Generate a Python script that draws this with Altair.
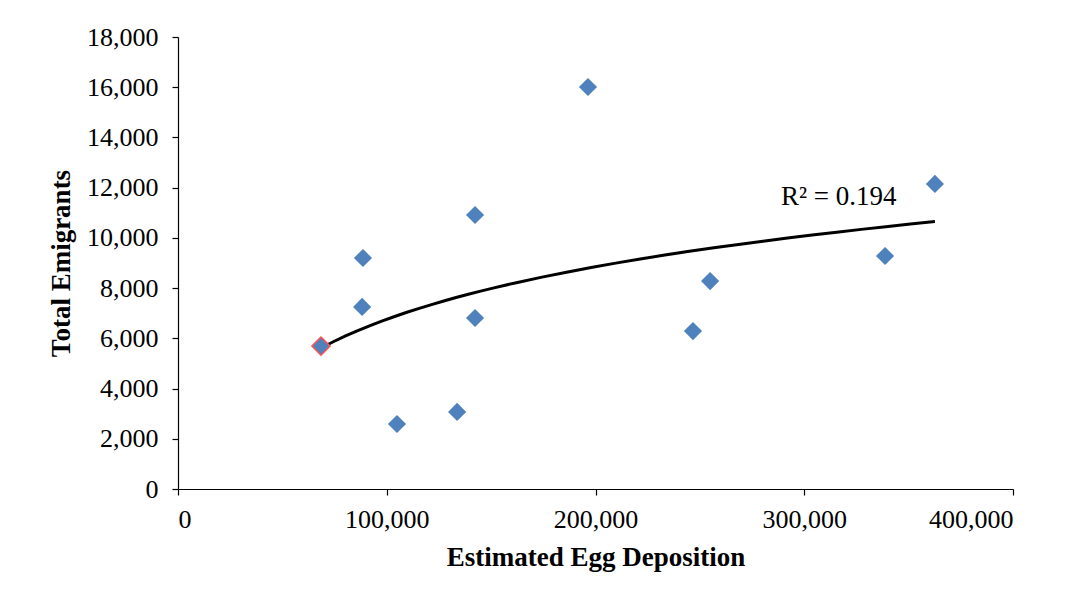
import altair as alt
import pandas as pd

egg = [68500, 88200, 88600, 104900, 133700, 142300, 142300, 196400, 246700, 254900, 338700, 362600]
emig = [5690, 7250, 9200, 2590, 3070, 10910, 6810, 16010, 6290, 8280, 9280, 12150]
highlight = [True, False, False, False, False, False, False, False, False, False, False, False]

r2_label = ["R\u00b2 = 0.194"]
r2_x = [316500]
r2_y = [11630]

df = pd.DataFrame({"egg": egg, "emig": emig, "hl": highlight})
lab = pd.DataFrame({"t": r2_label, "x": r2_x, "y": r2_y})

FONT = "Liberation Serif"

xs = alt.Scale(domain=[0, 400000], nice=False)
ys = alt.Scale(domain=[0, 18000], nice=False)

xax = alt.Axis(values=[0, 100000, 200000, 300000, 400000], format=",d", title="Estimated Egg Deposition",
               grid=False, tickSize=6, labelPadding=11, titlePadding=12)
yax = alt.Axis(values=list(range(0, 18001, 2000)), format=",d", title="Total Emigrants",
               grid=False, tickSize=6, labelPadding=14, titlePadding=11)

base = alt.Chart(df)

pts = base.mark_point(shape="diamond", filled=True, size=330, color="#4F81BD", opacity=1).encode(
    x=alt.X("egg:Q", scale=xs, axis=xax),
    y=alt.Y("emig:Q", scale=ys, axis=yax),
    stroke=alt.condition("datum.hl", alt.value("#FF5050"), alt.value(None)),
    strokeWidth=alt.condition("datum.hl", alt.value(1.5), alt.value(0)),
)

trend = base.transform_regression("egg", "emig", method="log").mark_line(
    color="black", strokeWidth=3
).encode(x=alt.X("egg:Q", scale=xs, axis=xax), y=alt.Y("emig:Q", scale=ys, axis=yax))

txt = alt.Chart(lab).mark_text(font=FONT, fontSize=27, color="#000000").encode(
    x=alt.X("x:Q", scale=xs, axis=xax), y=alt.Y("y:Q", scale=ys, axis=yax), text="t:N"
)

chart = alt.layer(trend, pts, txt).properties(
    width=835, height=452,
    background="white",
    autosize=alt.AutoSizeParams(type="none"),
    padding={"left": 170, "top": 29, "right": 50, "bottom": 100},
).configure_view(stroke=None).configure_axis(
    labelFont=FONT, titleFont=FONT, labelFontSize=26, titleFontSize=27,
    labelColor="#000000", titleColor="#000000", titleFontWeight="bold",
    domainColor="#000000", tickColor="#000000", domainWidth=1.2, tickWidth=1.2,
)

chart.save("out.html", embed_options={"renderer": "svg", "actions": False})
